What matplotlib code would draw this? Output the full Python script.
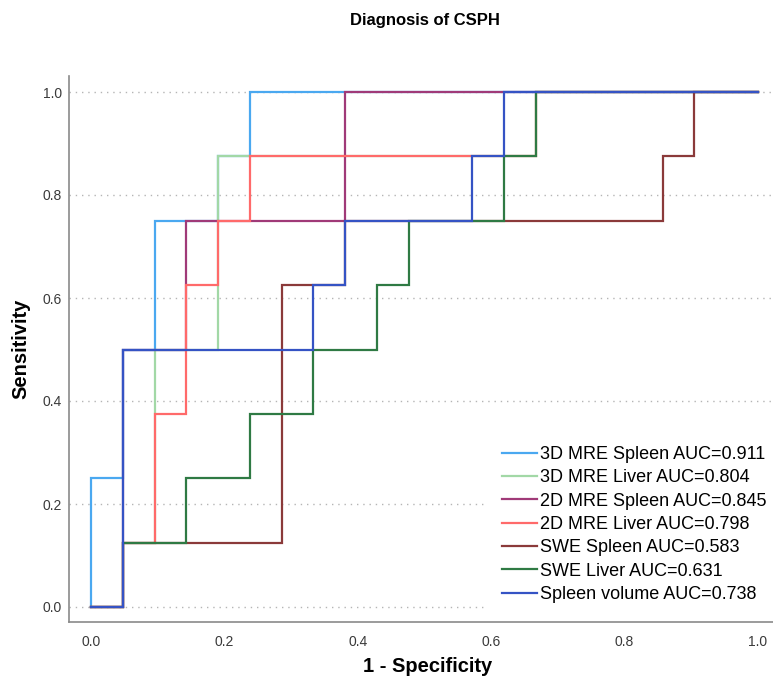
import matplotlib
matplotlib.use("Agg")
from matplotlib import pyplot as plt

plt.rcParams['font.family'] = ['Liberation Sans', 'DejaVu Sans']

# ROC step curves: false positives out of 21, true positives out of 8
n_neg = 21
n_pos = 8

labels = ['3D MRE Spleen AUC=0.911', '3D MRE Liver AUC=0.804',
          '2D MRE Spleen AUC=0.845', '2D MRE Liver AUC=0.798',
          'SWE Spleen AUC=0.583', 'SWE Liver AUC=0.631',
          'Spleen volume AUC=0.738']
colors = ['#4aa8f0', '#a2d8a6', '#a03a78', '#ff6a6a',
          '#8b3a3a', '#2f7a44', '#3553c4']

mre3d_spleen_fp = [0, 0, 1, 1, 2, 2, 4, 4, 5, 5, 21]
mre3d_spleen_tp = [0, 2, 2, 4, 4, 6, 6, 7, 7, 8, 8]
mre3d_liver_fp = [0, 1, 1, 2, 2, 4, 4, 14, 14, 21]
mre3d_liver_tp = [0, 0, 1, 1, 4, 4, 7, 7, 8, 8]
mre2d_spleen_fp = [0, 1, 1, 3, 3, 8, 8, 21]
mre2d_spleen_tp = [0, 0, 4, 4, 6, 6, 8, 8]
mre2d_liver_fp = [0, 1, 1, 2, 2, 3, 3, 4, 4, 5, 5, 14, 14, 21]
mre2d_liver_tp = [0, 0, 1, 1, 3, 3, 5, 5, 6, 6, 7, 7, 8, 8]
swe_spleen_fp = [0, 1, 1, 6, 6, 8, 8, 18, 18, 19, 19, 21]
swe_spleen_tp = [0, 0, 1, 1, 5, 5, 6, 6, 7, 7, 8, 8]
swe_liver_fp = [0, 1, 1, 3, 3, 5, 5, 7, 7, 9, 9, 10, 10, 13, 13, 14, 14, 21]
swe_liver_tp = [0, 0, 1, 1, 2, 2, 3, 3, 4, 4, 5, 5, 6, 6, 7, 7, 8, 8]
volume_fp = [0, 1, 1, 7, 7, 8, 8, 12, 12, 13, 13, 21]
volume_tp = [0, 0, 4, 4, 5, 5, 6, 6, 7, 7, 8, 8]

curves = [(mre3d_spleen_fp, mre3d_spleen_tp), (mre3d_liver_fp, mre3d_liver_tp),
          (mre2d_spleen_fp, mre2d_spleen_tp), (mre2d_liver_fp, mre2d_liver_tp),
          (swe_spleen_fp, swe_spleen_tp), (swe_liver_fp, swe_liver_tp),
          (volume_fp, volume_tp)]

ticks = [0.0, 0.2, 0.4, 0.6, 0.8, 1.0]

W, H = 773, 683
fig = plt.figure(figsize=(W / 100, H / 100), dpi=100)
ax = fig.add_axes([69 / W, 61 / H, 1 - 69 / W, (622 - 76) / H])

for (fp, tp), lab, col in zip(curves, labels, colors):
    x = [v / n_neg for v in fp]
    y = [v / n_pos for v in tp]
    ax.plot(x, y, color=col, lw=1.6, label=lab, solid_joinstyle='miter')

ax.set_xlim(-22 / 667, 1 + 15 / 667)
ax.set_ylim(-15 / 515, 1 + 16 / 515)
ax.set_xticks(ticks)
ax.set_yticks(ticks)
ax.set_xticklabels(['%.1f' % t for t in ticks])
ax.set_yticklabels(['%.1f' % t for t in ticks])
ax.tick_params(length=0, labelsize=10, labelcolor='#3a3a3a')
ax.tick_params(axis='x', pad=9)
ax.tick_params(axis='y', pad=5)
ax.yaxis.grid(True, linestyle=(0, (1, 3.5)), color='#b5b5b5', lw=1)
ax.set_axisbelow(True)

for s in ['top', 'right']:
    ax.spines[s].set_visible(False)
for s in ['left', 'bottom']:
    ax.spines[s].set_color('#8a8a8a')
    ax.spines[s].set_linewidth(1.2)

fig.text(428 / W, 1 - 667 / H, '1 - Specificity', ha='center', va='center',
         fontsize=14.5, fontweight='bold')
fig.text(21 / W, 1 - 349 / H, 'Sensitivity', ha='center', va='center',
         rotation=90, fontsize=14.5, fontweight='bold')
fig.text(425 / W, 1 - 20 / H, 'Diagnosis of CSPH', ha='center', va='center',
         fontsize=12, fontweight='bold')

leg = ax.legend(loc='lower left', bbox_to_anchor=(488 / W, 66 / H),
                bbox_transform=fig.transFigure, borderaxespad=0,
                borderpad=0.78, fontsize=13, handlelength=1.95,
                handletextpad=0.17, labelspacing=0.35, frameon=True,
                fancybox=False)
leg.get_frame().set_facecolor('white')
leg.get_frame().set_edgecolor('none')
leg.get_frame().set_alpha(1)

fig.savefig('out.png', dpi=100)
